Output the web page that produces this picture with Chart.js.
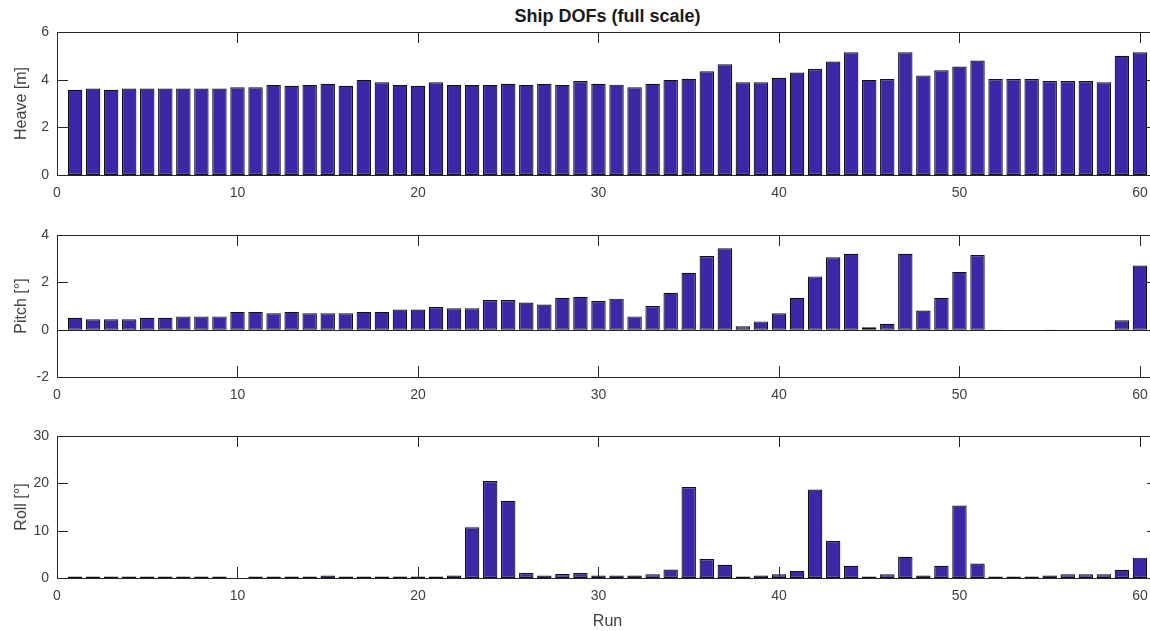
<!DOCTYPE html>
<html>
<head>
<meta charset="utf-8">
<script src="https://cdn.jsdelivr.net/npm/chart.js@4.4.1/dist/chart.umd.min.js"></script>
<style>
  html, body { margin: 0; padding: 0; background: #fff; }
  body { width: 1150px; height: 631px; overflow: hidden; position: relative; }
  canvas { position: absolute; left: 0; }
  #title { position: absolute; left: 0; width: 1215px; top: 6px; text-align: center;
           font: bold 18px "Liberation Sans", Arial, sans-serif; line-height: 21px; color: #1a1a1a; }
</style>
</head>
<body>
<div id="title">Ship DOFs (full scale)</div>
<canvas id="cHeave" width="1160" height="210" style="top:0px"></canvas>
<canvas id="cPitch" width="1160" height="210" style="top:205px"></canvas>
<canvas id="cRoll" width="1160" height="221" style="top:410px"></canvas>
<script>
// ---- data ----
const runs = [1,2,3,4,5,6,7,8,9,10,11,12,13,14,15,16,17,18,19,20,
              21,22,23,24,25,26,27,28,29,30,31,32,33,34,35,36,37,38,39,40,
              41,42,43,44,45,46,47,48,49,50,51,52,53,54,55,56,57,58,59,60];
const heave = [3.58,3.63,3.58,3.63,3.63,3.63,3.63,3.63,3.63,3.68,
               3.68,3.78,3.74,3.78,3.83,3.74,3.99,3.89,3.78,3.74,
               3.89,3.78,3.78,3.78,3.83,3.78,3.83,3.78,3.94,3.83,
               3.79,3.68,3.83,3.99,4.04,4.35,4.65,3.89,3.89,4.08,
               4.30,4.45,4.76,5.15,3.99,4.03,5.15,4.18,4.39,4.55,
               4.80,4.03,4.03,4.03,3.94,3.94,3.94,3.89,5.00,5.15];
const pitch = [0.50,0.44,0.44,0.44,0.50,0.50,0.56,0.56,0.56,0.75,
               0.75,0.69,0.75,0.69,0.69,0.69,0.75,0.75,0.85,0.85,
               0.96,0.90,0.90,1.25,1.25,1.15,1.06,1.35,1.39,1.21,
               1.31,0.56,1.00,1.56,2.40,3.11,3.44,0.14,0.35,0.69,
               1.35,2.25,3.06,3.21,0.10,0.25,3.21,0.81,1.35,2.44,
               3.15,-0.03,0,0,-0.03,0,0,0,0.40,2.71];
const roll = [0.3,0.3,0.3,0.3,0.3,0.3,0.3,0.3,0.3,0,
              0.3,0.3,0.3,0.3,0.55,0.3,0.3,0.3,0.3,0.3,
              0.3,0.55,10.7,20.5,16.3,1.05,0.55,0.85,1.05,0.55,
              0.55,0.55,0.8,1.8,19.2,4.0,2.8,0.3,0.55,0.8,
              1.5,18.7,7.8,2.6,0.3,0.8,4.5,0.55,2.6,15.3,
              3.05,0.3,0.3,0.3,0.55,0.8,0.8,0.8,1.75,4.3];
const xTicks = [0,10,20,30,40,50,60];
const heaveTicks = [0,2,4,6];
const pitchTicks = [-2,0,2,4];
const rollTicks = [0,10,20,30];

// ---- style ----
const FONT = '"Liberation Sans", Arial, Helvetica, sans-serif';
const BAR = '#3e26a8';
const AXC = '#262626';
const TXT = '#404040';
const TL = 11;

Chart.defaults.font.family = FONT;

const axesPlugin = {
  id: 'matlabAxes',
  beforeDatasetsDraw(chart) {
    const {ctx, chartArea: a, scales: {x, y}} = chart;
    ctx.save();
    ctx.strokeStyle = AXC;
    ctx.lineWidth = 1;
    ctx.beginPath();
    x.ticks.forEach(t => {
      const px = Math.round(x.getPixelForValue(t.value)) + 0.5;
      ctx.moveTo(px, a.bottom); ctx.lineTo(px, a.bottom - TL);
      ctx.moveTo(px, a.top); ctx.lineTo(px, a.top + TL);
    });
    y.ticks.forEach(t => {
      const py = Math.round(y.getPixelForValue(t.value)) + 0.5;
      ctx.moveTo(a.left, py); ctx.lineTo(a.left + TL, py);
      ctx.moveTo(a.right, py); ctx.lineTo(a.right - TL, py);
    });
    if (y.min < 0) {
      const p0 = Math.round(y.getPixelForValue(0)) + 0.5;
      ctx.moveTo(a.left, p0); ctx.lineTo(a.right, p0);
    }
    ctx.stroke();
    ctx.restore();
  },
  afterDatasetsDraw(chart) {
    const {ctx, chartArea: a} = chart;
    ctx.save();
    ctx.strokeStyle = AXC;
    ctx.lineWidth = 1;
    const l = Math.round(a.left) + 0.5, t = Math.round(a.top) + 0.5;
    const r = Math.round(a.right) + 0.5, b = Math.round(a.bottom) + 0.5;
    ctx.strokeRect(l, t, r - l, b - t);
    ctx.restore();
  }
};

function makeChart(id, values, yMin, yMax, yTickVals, yLabel, o) {
  return new Chart(document.getElementById(id), {
    type: 'bar',
    data: {
      datasets: [{
        data: runs.map((r, i) => ({x: r, y: values[i]})),
        backgroundColor: BAR,
        borderColor: '#111',
        borderWidth: 1.2,
        borderSkipped: false,
        barPercentage: 0.8,
        categoryPercentage: 1.0
      }]
    },
    options: {
      responsive: false,
      animation: false,
      devicePixelRatio: 1,
      layout: {padding: {top: o.padTop, left: 0, right: 2, bottom: 0}},
      plugins: {legend: {display: false}, tooltip: {enabled: false}, title: {display: false}},
      scales: {
        x: {
          type: 'linear', min: 0, max: 61, offset: false,
          grid: {display: false, drawTicks: false},
          border: {display: false},
          afterBuildTicks: s => { s.ticks = xTicks.map(v => ({value: v})); },
          afterFit: s => { s.height = o.xH; },
          ticks: {padding: 10, color: TXT, font: {size: 14, family: FONT}, maxRotation: 0, autoSkip: false},
          title: o.xTitle ? {display: true, text: o.xTitle, color: TXT,
                             font: {size: 16, family: FONT}, padding: {top: 0, bottom: 0}}
                          : {display: false}
        },
        y: {
          type: 'linear', min: yMin, max: yMax,
          grid: {display: false, drawTicks: false},
          border: {display: false},
          afterBuildTicks: s => { s.ticks = yTickVals.map(v => ({value: v})); },
          afterFit: s => { s.width = 57; },
          ticks: {padding: 8, color: TXT, font: {size: 14, family: FONT}},
          title: {display: true, text: yLabel, color: TXT,
                  font: {size: 16, family: FONT}, padding: {top: 12, bottom: 0}}
        }
      }
    },
    plugins: [axesPlugin]
  });
}

makeChart('cHeave', heave, 0, 6, heaveTicks, 'Heave [m]', {padTop: 32, xH: 35});
makeChart('cPitch', pitch, -2, 4, pitchTicks, 'Pitch [°]', {padTop: 30, xH: 38});
makeChart('cRoll', roll, 0, 30, rollTicks, 'Roll [°]', {padTop: 26, xH: 53, xTitle: 'Run'});
</script>
</body>
</html>
